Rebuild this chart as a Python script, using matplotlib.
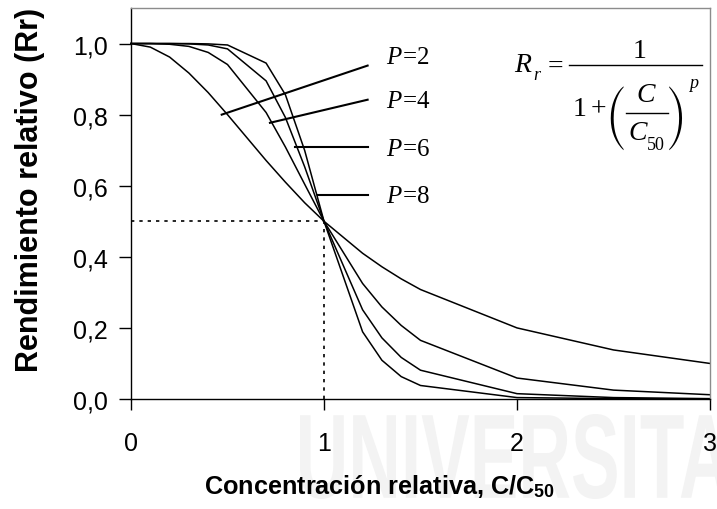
import matplotlib
matplotlib.use("Agg")
import matplotlib.pyplot as plt
from matplotlib.textpath import TextPath
from matplotlib.patches import PathPatch
from matplotlib.font_manager import FontProperties
from matplotlib.transforms import Affine2D
from matplotlib.lines import Line2D

# Relative concentration C/C50 and relative yield for each exponent p
conc = [0, 0.1, 0.2, 0.3, 0.4, 0.5, 0.7, 0.8, 0.9, 1.0, 1.2, 1.3, 1.4, 1.5, 2.0, 2.5, 3.0]
rr_p2 = [1.000, 0.990, 0.962, 0.917, 0.862, 0.800, 0.671, 0.610, 0.552, 0.500,
         0.410, 0.372, 0.338, 0.308, 0.200, 0.138, 0.100]
rr_p4 = [1.000, 1.000, 0.998, 0.992, 0.975, 0.941, 0.806, 0.709, 0.604, 0.500,
         0.325, 0.259, 0.207, 0.165, 0.059, 0.025, 0.012]
rr_p6 = [1.000, 1.000, 1.000, 0.999, 0.996, 0.985, 0.895, 0.792, 0.653, 0.500,
         0.251, 0.172, 0.117, 0.081, 0.015, 0.004, 0.001]
rr_p8 = [1.000, 1.000, 1.000, 1.000, 0.999, 0.996, 0.945, 0.856, 0.699, 0.500,
         0.189, 0.109, 0.063, 0.038, 0.004, 0.001, 0.000]

curve_labels = ["2", "4", "6", "8"]
# leader line: start on curve (x, y) -> end near label (x, y)
leader_start = [(0.47, 0.800), (0.72, 0.777), (0.85, 0.710), (0.97, 0.575)]
leader_end = [(1.226, 0.938), (1.226, 0.842), (1.226, 0.710), (1.226, 0.575)]
label_y = [0.963, 0.837, 0.704, 0.572]

x_ticks = [0, 1, 2, 3]
y_ticks = [0.0, 0.2, 0.4, 0.6, 0.8, 1.0]
y_ticklabels = ["0,0", "0,2", "0,4", "0,6", "0,8", "1,0"]

plt.rcParams["mathtext.fontset"] = "custom"
plt.rcParams["mathtext.rm"] = "Liberation Serif"
plt.rcParams["mathtext.it"] = "Liberation Serif:italic"
plt.rcParams["mathtext.bf"] = "Liberation Sans:bold"

W, H = 717, 510
fig = plt.figure(figsize=(W / 100, H / 100), dpi=100)


def fpos(px, py):
    """Pixel position (from top-left) to figure fraction."""
    return px / W, 1 - py / H


# faint institutional watermark behind the chart
wm_font = FontProperties(family="Liberation Sans", weight="bold")
wm_path = TextPath((0, 0), "UNIVERSITAT", size=100, prop=wm_font)
bbox = wm_path.get_extents()
sx = 470 / bbox.width
sy = 85 / bbox.height
wm_patch = PathPatch(wm_path,
                     transform=Affine2D().translate(-bbox.x0, -bbox.y0).scale(sx, sy).translate(300, 10),
                     facecolor="#f3f3f3", edgecolor="none", zorder=-10)
wm_patch.set_figure(fig)
fig.patches.append(wm_patch)

ax = fig.add_axes([131 / W, 1 - 400 / H, (710 - 131) / W, (400 - 9) / H])
ax.patch.set_alpha(0)

for series in (rr_p2, rr_p4, rr_p6, rr_p8):
    ax.plot(conc, series, color="black", lw=1.1, solid_joinstyle="miter", clip_on=False)

# dotted guides at Rr = 0.5
ax.plot([0, 1], [0.5, 0.5], color="black", lw=1.2, ls=(0, (2, 3)))
ax.plot([1, 1], [0, 0.5], color="black", lw=1.2, ls=(0, (2, 3)))

for lab, (x0, y0), (x1, y1), ly in zip(curve_labels, leader_start, leader_end, label_y):
    ax.plot([x0, x1], [y0, y1], color="black", lw=1.5)
    ax.text(1.32, ly, r"$P\!=\!$" + lab, fontsize=18, va="center", ha="left",
            family="Liberation Serif")

# yield equation, set piece by piece
ftxt = dict(ha="center", va="center", family="Liberation Serif", color="black")
fig.text(*fpos(523, 66), "R", fontsize=20, style="italic", **ftxt)
fig.text(*fpos(537, 75), "r", fontsize=13, style="italic", **ftxt)
fig.text(*fpos(555, 67), "=", fontsize=20, **ftxt)
fig.text(*fpos(640, 52), "1", fontsize=20, **ftxt)
fig.add_artist(Line2D([569 / W, 702 / W], [1 - 66 / H, 1 - 66 / H], color="black", lw=1.0))
fig.text(*fpos(580, 110), "1", fontsize=20, **ftxt)
fig.text(*fpos(598, 110), "+", fontsize=20, **ftxt)
paren = dict(ha="center", va="center", family="STIXSizeThreeSym", color="black")
fig.text(*fpos(615, 118), "(", fontsize=19, **paren)
fig.text(*fpos(677, 118), ")", fontsize=19, **paren)
fig.text(*fpos(646, 96), "C", fontsize=20, style="italic", **ftxt)
fig.add_artist(Line2D([626 / W, 668 / W], [1 - 114 / H, 1 - 114 / H], color="black", lw=1.0))
fig.text(*fpos(638, 134), "C", fontsize=20, style="italic", **ftxt)
fig.text(*fpos(656, 146), "50", fontsize=13, **ftxt)
fig.text(*fpos(694, 83), "p", fontsize=13, style="italic", **ftxt)

ax.set_xlim(0, 3)
ax.set_ylim(0, 1.1)
ax.set_xticks(x_ticks)
ax.set_xticklabels([str(t) for t in x_ticks])
ax.set_yticks(y_ticks)
ax.set_yticklabels(y_ticklabels)
ax.tick_params(axis="x", direction="out", length=8, width=1, pad=15, labelsize=18)
ax.tick_params(axis="y", direction="out", length=9, width=1, pad=8, labelsize=18)
for t in ax.get_xticklabels() + ax.get_yticklabels():
    t.set_family("Liberation Sans")

ax.spines["left"].set_color("black")
ax.spines["bottom"].set_color("black")
ax.spines["top"].set_color("#8c8c8c")
ax.spines["right"].set_color("#8c8c8c")
for s in ax.spines.values():
    s.set_linewidth(1.0)

fig.text(*fpos(380, 487), r"Concentración relativa, C/C$_{\mathbf{50}}$", fontsize=18.2,
         fontweight="bold", family="Liberation Sans", ha="center", va="center")
fig.text(*fpos(30, 190), "Rendimiento relativo (Rr)", fontsize=22, fontweight="bold",
         family="Liberation Sans", rotation=90, ha="center", va="center")

fig.savefig("out.png", dpi=100)
